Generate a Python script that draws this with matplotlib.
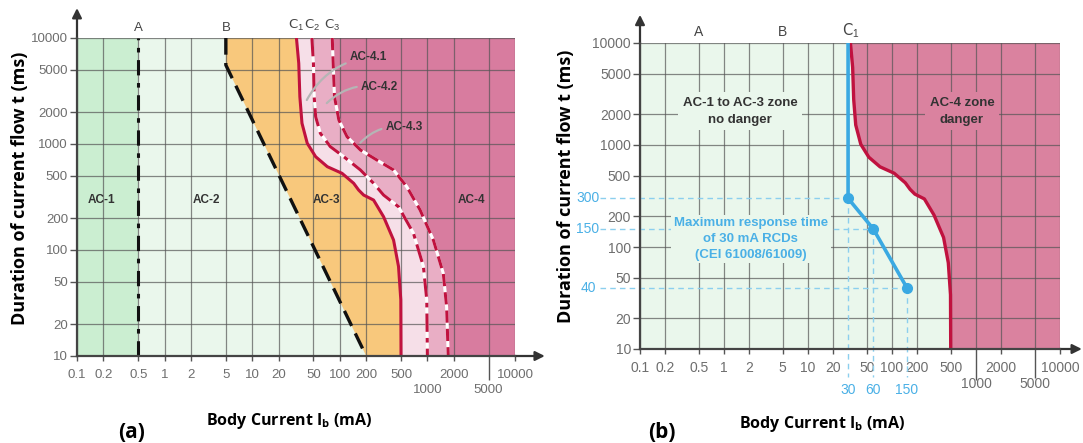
import matplotlib as mpl
mpl.use('Agg')
import matplotlib.pyplot as plt
from matplotlib.transforms import blended_transform_factory

W, H = 1083, 443

# axis ticks (mA / ms)
x_ticks = [0.1, 0.2, 0.5, 1, 2, 5, 10, 20, 50, 100, 200, 500, 1000, 2000, 5000, 10000]
x_low = [1000, 5000]
y_ticks = [10, 20, 50, 100, 200, 500, 1000, 2000, 5000, 10000]

# boundary A and B
a_current = 0.5
b_i = [5, 5, 200]
b_t = [10000, 5560, 10]

# curves C1, C2, C3 (current mA, time ms)
c1_i = [32, 34, 35, 37, 42.5, 53, 72, 106, 144, 164, 187, 243, 316, 411, 468, 497, 500]
c1_t = [10000, 5770, 2790, 1570, 1016, 759, 611, 529, 426, 368, 330, 296, 206, 124, 70, 34, 10]
c2_i = [48, 50, 51, 53, 60, 78, 111, 172, 243, 316, 468, 693, 900, 983, 1000]
c2_t = [10000, 5770, 2790, 1810, 1262, 944, 759, 569, 426, 330, 256, 144, 70, 34, 10]
c3_i = [82, 84, 87, 97.5, 121, 172, 265, 411, 582, 826, 1170, 1520, 1657, 1730]
c3_t = [10000, 5770, 2790, 1684, 1172, 878, 706, 569, 395, 238, 124, 60, 29, 10]

# 30 mA RCD maximum response time
rcd_i = [30, 30, 60, 150]
rcd_t = [10000, 300, 150, 40]

AC1 = '#cbeed1'
AC2 = '#eaf7ec'
AC3 = '#f8c87c'
AC41 = '#f6dfe8'
AC42 = '#e9aec5'
AC4 = '#d87c9f'
PINK_B = '#da829f'
CRIMSON = '#c0123f'
BLUE = '#3aa9e2'
LBLUE = '#8ccfee'
TBLUE = '#4ab0e6'
GRID = '#555555'
ARIAL = ['Liberation Sans', 'DejaVu Sans']

plt.rcParams['mathtext.fontset'] = 'custom'
plt.rcParams['mathtext.rm'] = 'Liberation Sans'
plt.rcParams['mathtext.bf'] = 'Open Sans:bold'

fig = plt.figure(figsize=(W / 100, H / 100), dpi=100)


def px_axes(l, t, r, b):
    return fig.add_axes([l / W, 1 - b / H, (r - l) / W, (b - t) / H])


def frame(ax, long_ticks, arrow_x, arrow_y, lsize):
    ax.set_xscale('log')
    ax.set_yscale('log')
    ax.set_xlim(0.1, 10000)
    ax.set_ylim(10, 10000)
    for v in x_ticks:
        ax.axvline(v, color=GRID, lw=0.9, alpha=0.7, zorder=2)
    for v in y_ticks:
        ax.axhline(v, color=GRID, lw=0.9, alpha=0.7, zorder=2)
    ax.set_xticks(x_ticks, ['%g' % v for v in x_ticks])
    ax.set_yticks(y_ticks, ['%g' % v for v in y_ticks])
    ax.minorticks_off()
    ax.tick_params(colors='#555', labelcolor='#6e6e6e', labelsize=lsize, width=1)
    ax.tick_params(axis='x', length=3.5, pad=5.5)
    ax.tick_params(axis='y', length=5, pad=1.5)
    for lab in ax.get_xticklabels() + ax.get_yticklabels():
        lab.set_fontfamily(ARIAL)
    for tick, v in zip(ax.xaxis.get_major_ticks(), x_ticks):
        if v in x_low:
            tick.set_pad(17)
        if v in long_ticks:
            tick.tick1line.set_markersize(long_ticks[v])
    for s in ['top', 'right']:
        ax.spines[s].set_visible(False)
    for s in ['left', 'bottom']:
        ax.spines[s].set_color('#444')
        ax.spines[s].set_linewidth(1.6)
        ax.spines[s].set_zorder(6)
    ax.annotate('', xy=(0, arrow_y), xytext=(0, 1), xycoords='axes fraction',
                arrowprops=dict(arrowstyle='-|>', color='#333', lw=1.6,
                                mutation_scale=14, shrinkA=0, shrinkB=0),
                annotation_clip=False)
    ax.annotate('', xy=(arrow_x, 0), xytext=(1, 0), xycoords='axes fraction',
                arrowprops=dict(arrowstyle='-|>', color='#333', lw=1.6,
                                mutation_scale=14, shrinkA=0, shrinkB=0),
                annotation_clip=False)


def left_fill(ax, xs, ts, color):
    ax.fill([0.1] + list(xs) + [0.1], [10000] + list(ts) + [10],
            color=color, lw=0, zorder=1)


# ---------------- panel (a) ----------------
ax = px_axes(77, 38, 515, 356)
ax.set_facecolor(AC4)
left_fill(ax, c3_i, c3_t, AC42)
left_fill(ax, c2_i, c2_t, AC41)
left_fill(ax, c1_i, c1_t, AC3)
left_fill(ax, b_i, b_t, AC2)
ax.axvspan(0.1, a_current, color=AC1, lw=0, zorder=1)
frame(ax, {5000: 17}, 1.068, 1.094, 9.5)

ax.axvline(a_current, color='#111', lw=2.2, dashes=(5, 2.5, 1.5, 2.5), zorder=4)
ax.plot(b_i, b_t, color='#111', lw=2.4, dashes=(5, 2.5), zorder=4)
ax.plot(c1_i, c1_t, color=CRIMSON, lw=2.2, zorder=5)
ax.plot(c2_i, c2_t, color='white', lw=2.2, zorder=4)
ax.plot(c2_i, c2_t, color=CRIMSON, lw=2.2, dashes=(6, 2, 1.5, 2), zorder=5)
ax.plot(c3_i, c3_t, color='white', lw=2.2, zorder=4)
ax.plot(c3_i, c3_t, color=CRIMSON, lw=2.2, dashes=(4, 2), zorder=5)

top = blended_transform_factory(ax.transData, ax.transAxes)
ax.text(a_current, 1.031, 'A', transform=top, ha='center', va='center',
        fontsize=9.5, color='#444', family=ARIAL)
ax.text(b_i[0], 1.031, 'B', transform=top, ha='center', va='center',
        fontsize=9.5, color='#444', family=ARIAL)
for k, xs in enumerate([c1_i, c2_i, c3_i]):
    ax.text(xs[0], 1.041, 'C$_%d$' % (k + 1), transform=top, ha='center',
            va='center', fontsize=9.5, color='#444')

for txt, xv in [('AC-1', 0.19), ('AC-2', 3.0), ('AC-3', 70), ('AC-4', 3160)]:
    ax.text(xv, 295, txt, ha='center', va='center', fontsize=8.5,
            fontweight='bold', color='#333', family=ARIAL, zorder=7)
for txt, tpos, apos in [('AC-4.1', (130, 6600), (42, 2600)),
                        ('AC-4.2', (174, 3470), (71, 2430)),
                        ('AC-4.3', (333, 1445), (172, 1030))]:
    ax.annotate(txt, xy=apos, xytext=tpos, ha='left', va='center',
                fontsize=8.5, fontweight='bold', color='#333', family=ARIAL,
                arrowprops=dict(arrowstyle='-', color='#b5b5b5', lw=1.6,
                                shrinkA=1, shrinkB=0,
                                connectionstyle='arc3,rad=0.25'),
                zorder=7)

# ---------------- panel (b) ----------------
ax = px_axes(640, 43, 1060, 349)
ax.set_facecolor(PINK_B)
left_fill(ax, c1_i, c1_t, AC2)
frame(ax, {1000: 22, 5000: 21}, 1.052, 1.092, 10)
ax.plot(c1_i, c1_t, color=CRIMSON, lw=2.4, zorder=5)

x_left = 0.1 * 10 ** (5 * -0.095)
t_low = 10 ** (1 - 3 * 0.0915)
for xv, tv in zip(rcd_i[1:], rcd_t[1:]):
    ax.plot([x_left, xv], [tv, tv], color=LBLUE, lw=1, dashes=(4, 3),
            zorder=3, clip_on=False)
    ax.plot([xv, xv], [tv, t_low], color=LBLUE, lw=1, dashes=(4, 3),
            zorder=3, clip_on=False)
ax.plot(rcd_i, rcd_t, color=BLUE, lw=2.6, zorder=6)
ax.plot(rcd_i[1:], rcd_t[1:], 'o', ms=7, color=BLUE, zorder=6)

side = blended_transform_factory(ax.transAxes, ax.transData)
bottom = blended_transform_factory(ax.transData, ax.transAxes)
for xv, tv in zip(rcd_i[1:], rcd_t[1:]):
    ax.text(-0.124, tv, '%g' % tv, transform=side, ha='center', va='center',
            fontsize=10, color=TBLUE, family=ARIAL)
    ax.text(xv, -0.134, '%g' % xv, transform=bottom, ha='center', va='center',
            fontsize=10, color=TBLUE, family=ARIAL)

top = blended_transform_factory(ax.transData, ax.transAxes)
ax.text(a_current, 1.036, 'A', transform=top, ha='center', va='center',
        fontsize=10, color='#444', family=ARIAL)
ax.text(b_i[0], 1.036, 'B', transform=top, ha='center', va='center',
        fontsize=10, color='#444', family=ARIAL)
ax.text(c1_i[0], 1.04, 'C$_1$', transform=top, ha='center', va='center',
        fontsize=10.5, color='#444')

ax.text(1.55, 2150, 'AC-1 to AC-3 zone\nno danger', ha='center', va='center',
        fontsize=9.5, fontweight='bold', color='#333', family=ARIAL,
        linespacing=1.55, zorder=7,
        bbox=dict(facecolor=AC2, edgecolor='none', pad=3))
ax.text(681, 2150, 'AC-4 zone\ndanger', ha='center', va='center',
        fontsize=9.5, fontweight='bold', color='#333', family=ARIAL,
        linespacing=1.55, zorder=7,
        bbox=dict(facecolor=PINK_B, edgecolor='none', pad=3))
ax.text(2.09, 120, 'Maximum response time\nof 30 mA RCDs\n(CEI 61008/61009)',
        ha='center', va='center', fontsize=9.5, fontweight='bold',
        color=TBLUE, family=ARIAL, linespacing=1.4, zorder=7,
        bbox=dict(facecolor=AC2, edgecolor='none', pad=2))

# ---------------- figure texts ----------------
ylab = 'Duration of current flow t (ms)'
xlab = r'Body Current I$_\mathbf{b}$ (mA)'
fig.text(20 / W, 1 - 188 / H, ylab, rotation=90, ha='center', va='center',
         fontsize=13, fontweight='bold', family='Open Sans')
fig.text(566 / W, 1 - 186 / H, ylab, rotation=90, ha='center', va='center',
         fontsize=13, fontweight='bold', family='Open Sans')
fig.text(289 / W, 1 - 421 / H, xlab, ha='center', va='center',
         fontsize=11.5, fontweight='bold', family='Open Sans')
fig.text(822 / W, 1 - 424 / H, xlab, ha='center', va='center',
         fontsize=11.5, fontweight='bold', family='Open Sans')
fig.text(132 / W, 1 - 433 / H, '(a)', ha='center', va='center',
         fontsize=15, fontweight='bold', family='Open Sans')
fig.text(662 / W, 1 - 433 / H, '(b)', ha='center', va='center',
         fontsize=15, fontweight='bold', family='Open Sans')

fig.savefig('out.png', dpi=100)
